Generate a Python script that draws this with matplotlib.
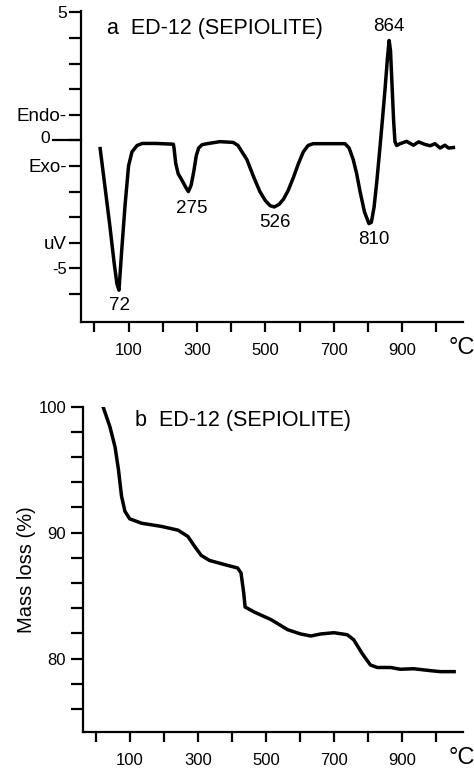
import numpy as np
import matplotlib
matplotlib.use("Agg")
import matplotlib.pyplot as plt
import matplotlib.transforms as mtransforms

plt.rcParams['font.family'] = ['Liberation Sans', 'DejaVu Sans']

# DTA curve (uV vs temperature)
dta_t = [17, 30, 45, 58, 66, 72, 80, 90, 100, 110, 125, 140, 180, 231, 233, 238, 245, 258, 270, 275,
         283, 291, 298, 305, 315, 330, 367, 406, 420, 446, 465, 484, 500, 514, 526, 540, 553, 567,
         582, 597, 611, 625, 640, 733, 745, 757, 767, 777, 790, 803, 810, 818, 826, 835, 843, 850,
         857, 862, 866, 870, 875, 879, 884, 894, 913, 933, 948, 967, 982, 996, 1011, 1025, 1036, 1050]
dta_v = [-0.32, -1.7, -3.3, -4.8, -5.6, -5.85, -4.3, -2.5, -1.0, -0.45, -0.2, -0.12, -0.12, -0.15,
         -0.3, -0.9, -1.3, -1.6, -1.9, -2.0, -1.75, -1.2, -0.6, -0.3, -0.17, -0.13, -0.05, -0.08,
         -0.2, -0.75, -1.4, -2.0, -2.35, -2.55, -2.6, -2.5, -2.3, -1.95, -1.45, -0.9, -0.45, -0.2,
         -0.13, -0.13, -0.3, -0.75, -1.3, -2.0, -2.8, -3.25, -3.2, -2.6, -1.6, -0.3, 0.9, 2.0, 3.2,
         3.9, 3.5, 2.3, 0.8, -0.05, -0.2, -0.13, -0.04, -0.19, -0.06, -0.16, -0.21, -0.13, -0.3,
         -0.19, -0.3, -0.28]

peak_t = [72, 275, 526, 810, 864]
peak_lbl_x = [75, 285, 528, 816, 860]
peak_lbl_y = [-6.45, -2.66, -3.22, -3.86, 4.44]

# TG curve (mass %)
tg_t = [22, 41, 56, 66, 75, 85, 99, 134, 192, 241, 270, 290, 309, 333, 387, 416, 426, 434, 438,
        465, 514, 563, 601, 631, 660, 699, 738, 757, 782, 806, 826, 865, 894, 933, 982, 1011, 1052]
tg_m = [99.9, 98.4, 96.8, 95.0, 92.9, 91.7, 91.1, 90.75, 90.5, 90.2, 89.7, 88.9, 88.2, 87.8, 87.4,
        87.2, 86.8, 85.2, 84.1, 83.7, 83.1, 82.3, 81.96, 81.8, 81.96, 82.06, 81.9, 81.5, 80.4,
        79.5, 79.3, 79.3, 79.16, 79.2, 79.05, 78.97, 78.97]

fs = 12
fig = plt.figure(figsize=(4.74, 7.70), dpi=100)
ax1 = fig.add_axes([0.1709, 0.5822, 0.8059, 0.4035])
ax2 = fig.add_axes([0.1745, 0.0497, 0.8023, 0.4221])

for ax in (ax1, ax2):
    ax.spines['top'].set_visible(False)
    ax.spines['right'].set_visible(False)
    ax.spines['left'].set_linewidth(1.6)
    ax.spines['bottom'].set_linewidth(1.6)
    ax.set_xlim(-39, 1078)
    ax.set_xticks(range(0, 1001, 100))
    ax.set_xticklabels(['' if v % 200 == 0 else str(v) for v in range(0, 1001, 100)])
    ax.tick_params(axis='both', which='both', direction='out', width=1.6, labelsize=fs)
    ax.tick_params(axis='x', length=7.5, pad=8)
    ax.tick_params(axis='y', which='both', length=8.5)
    ax.annotate('°C', xy=(1075, 0), xycoords=('data', 'axes fraction'),
                xytext=(0, -19), textcoords='offset points', fontsize=17,
                ha='center', va='center', annotation_clip=False)

# Panel a
ax1.plot(dta_t, dta_v, color='black', lw=2.5, solid_joinstyle='round')
ax1.set_ylim(-7.08, 5.05)
yt = list(range(5, -7, -1))
ax1.set_yticks(yt)
lab = {5: '5', 1: 'Endo-', -1: 'Exo-', -4: 'uV', -5: '-5'}
ax1.set_yticklabels([lab.get(v, '') for v in yt])
ax1.tick_params(axis='y', pad=1.5)
for t in ax1.get_yticklabels():
    if t.get_text() in ('Endo-', 'Exo-', 'uV'):
        t.set_fontsize(13.5)
    elif t.get_text() == '5':
        t.set_fontsize(12.5)
# long tick at zero
trans = mtransforms.blended_transform_factory(ax1.transAxes, ax1.transData)
ax1.plot([-0.073, 0], [0, 0], color='black', lw=1.6, transform=trans, clip_on=False)
ax1.annotate('0', xy=(0, 0), xycoords=trans, xytext=(-22, 1), textcoords='offset points',
             fontsize=12.5, ha='right', va='center', annotation_clip=False)
for x, y, t in zip(peak_lbl_x, peak_lbl_y, peak_t):
    ax1.text(x, y, str(t), fontsize=13.5, ha='center', va='center')
ax1.text(36, 4.37, 'a  ED-12 (SEPIOLITE)', fontsize=15.5, ha='left', va='center')

# Panel b
ax2.plot(tg_t, tg_m, color='black', lw=2.5, solid_joinstyle='round')
ax2.set_ylim(74.2, 100)
ax2.set_yticks([80, 90, 100])
ax2.set_yticks(np.arange(76, 100, 2), minor=True)
ax2.tick_params(axis='y', which='both', pad=3.5)
ax2.set_ylabel('Mass loss (%)', fontsize=14.5, labelpad=2)
ax2.text(114, 98.9, 'b  ED-12 (SEPIOLITE)', fontsize=15.5, ha='left', va='center')

fig.savefig('out.png', dpi=100)
